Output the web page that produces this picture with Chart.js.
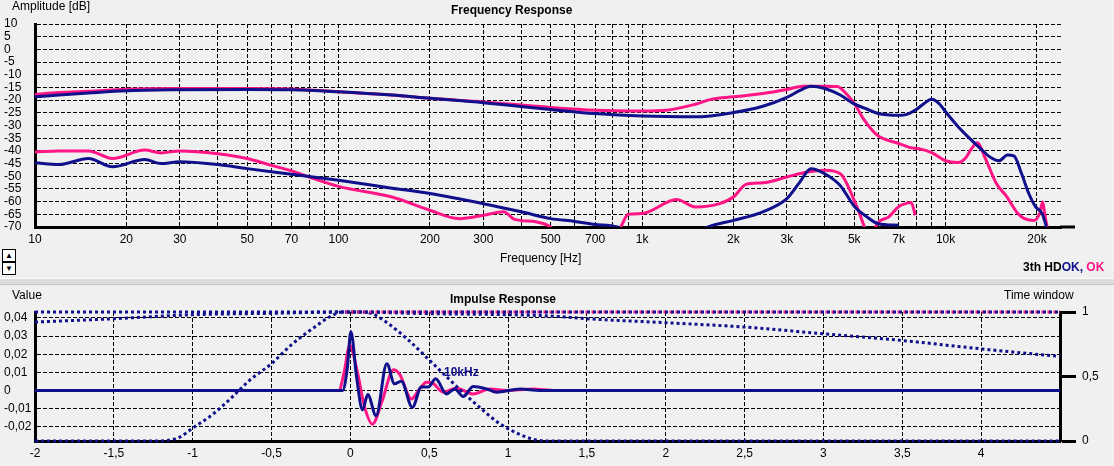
<!DOCTYPE html>
<html>
<head>
<meta charset="utf-8">
<script src="https://cdn.jsdelivr.net/npm/chart.js@4.4.1/dist/chart.umd.min.js"></script>
<style>
  body { margin: 0; background: #f0f0f0; width: 1114px; height: 466px; overflow: hidden; position: relative;
         font-family: "Liberation Sans", Arial, sans-serif; font-size: 12px; color: #000; }
  canvas { position: absolute; left: 0; }
  .t { position: absolute; white-space: nowrap; line-height: 14px; }
  .b { font-weight: bold; }
  .btn { position: absolute; left: 2px; width: 12px; height: 11px; background: #fff; border: 1px solid #000;
         font-size: 8px; line-height: 11px; text-align: center; }
  #sep { position: absolute; left: 0; top: 278px; width: 1114px; height: 5px; background: #dcdcdc;
         border-top: 1px solid #fafafa; border-bottom: 1px solid #c4c4c4; }
</style>
</head>
<body>
<canvas id="freqChart" width="1114" height="280" style="top:0"></canvas>
<canvas id="irChart" width="1114" height="181" style="top:285px"></canvas>

<div class="t" style="left:12px;top:-1px">Amplitude [dB]</div>
<div class="t b" style="left:451px;top:3px">Frequency Response</div>
<div class="t" style="left:500px;top:251px">Frequency [Hz]</div>
<div class="t b" style="left:1023px;top:260px">3th HD<span style="color:#10108c">OK,</span> <span style="color:#ff1585">OK</span></div>
<div class="btn" style="top:249px">&#9650;</div>
<div class="btn" style="top:262px">&#9660;</div>
<div id="sep"></div>
<div class="t" style="left:12px;top:288px">Value</div>
<div class="t b" style="left:450px;top:292px">Impulse Response</div>
<div class="t" style="left:1004px;top:288px">Time window</div>
<div class="t b" style="left:444px;top:365px;color:#10108c">10kHz</div>

<script>
// 频响数据 (Hz, dB)
const blueFundF = [10, 12, 15, 20, 30, 50, 70, 100, 150, 200, 300, 500, 700, 1000, 1500, 2000, 2500, 3000, 3300, 3600, 4000, 4500, 5000, 5500, 6000, 7000, 7500, 8000, 8500, 9000, 9500, 10000, 11000, 12000, 13000, 14000, 15000, 16000, 16800, 17800, 18800, 19800, 20800, 21500];
const blueFundDb = [-18.7, -18, -17.2, -16.3, -15.9, -15.8, -15.9, -16.7, -18, -19.3, -21, -23.7, -25.3, -26.3, -26.6, -24.9, -22.4, -18.9, -16.3, -14.5, -15.4, -18, -21.5, -23.5, -25.3, -26, -25.5, -23.7, -21.3, -19.7, -21.3, -24.6, -30.5, -35.1, -39, -42.4, -43.9, -41.6, -42, -49, -56.8, -62.1, -64.7, -70];

const pinkFundF = [10, 12, 15, 20, 30, 50, 70, 100, 150, 200, 300, 500, 700, 1000, 1200, 1500, 1700, 2000, 2500, 3000, 3400, 4000, 4400, 4700, 5000, 5400, 5950, 7000, 7700, 8100, 9000, 10000, 11000, 11600, 12200, 12700, 13600, 14700, 15900, 17300, 18200, 19600, 20400, 20900, 21200, 21600];
const pinkFundDb = [-17.8, -17, -16.5, -15.7, -15.4, -15.4, -15.6, -16.7, -18, -19.3, -20.7, -22.9, -24, -24.3, -24, -21.6, -19.6, -18.7, -17.4, -15.8, -14.5, -14.5, -14.6, -17.4, -21.3, -27.9, -33.8, -37.1, -38.8, -39.1, -40.7, -43.9, -44.6, -43, -39, -36.8, -43.7, -52.9, -58, -64.7, -66.7, -67.4, -64.7, -60.1, -64.7, -70];

const blueHdF = [10, 12, 15, 18, 23, 26, 30, 40, 50, 70, 100, 150, 200, 300, 400, 500, 600, 700, 830, 950, 1400, 1650, 2000, 2500, 3000, 3300, 3600, 4000, 4500, 5000, 5500, 6000, 7000];
const blueHdDb = [-44.7, -45.4, -43, -46.3, -43.4, -45, -44.3, -45.4, -47, -49.2, -51.6, -54.7, -56.8, -60.8, -64, -66.7, -67.8, -69, -70, -75, -75, -70, -67.4, -64, -58.8, -52.5, -47, -49, -53.7, -61.8, -66, -68.7, -69.3];

const pinkHdF = [10, 12, 15, 18, 23, 26, 30, 40, 50, 60, 70, 80, 100, 150, 200, 250, 300, 350, 380, 450, 500, 560, 780, 850, 900, 1000, 1300, 1500, 1800, 2000, 2200, 2500, 3000, 3500, 4000, 4500, 5000, 5400, 5600, 5700, 5870, 6500, 7000, 7500, 7700, 7950];
const pinkHdDb = [-40.4, -40, -40, -43, -39.7, -40.8, -40, -41.1, -43, -45.7, -47.9, -50.3, -54, -58.2, -63.4, -66.7, -65.4, -64, -67, -68, -70, -76, -76, -70, -65, -64.7, -59.2, -62.1, -60.8, -58.2, -53.2, -52.6, -50.3, -48.3, -47.6, -49, -59.5, -70, -76, -76, -70, -66, -62, -60.5, -60.3, -65.4];

const freqGrid = [10, 20, 30, 40, 50, 60, 70, 80, 90, 100, 200, 300, 400, 500, 600, 700, 800, 900,
                  1000, 2000, 3000, 4000, 5000, 6000, 7000, 8000, 9000, 10000, 20000];
const freqLabels = { 10: '10', 20: '20', 30: '30', 50: '50', 70: '70', 100: '100', 200: '200', 300: '300',
                     500: '500', 700: '700', 1000: '1k', 2000: '2k', 3000: '3k', 5000: '5k', 7000: '7k',
                     10000: '10k', 20000: '20k' };
const dbTicks = [-70, -65, -60, -55, -50, -45, -40, -35, -30, -25, -20, -15, -10, -5, 0, 5, 10];

// 脉冲响应 (ms)
const irBlueT = [-2, -0.05, -0.02, 0.003, 0.04, 0.077, 0.11, 0.163, 0.231, 0.28, 0.323, 0.393, 0.45, 0.493, 0.541, 0.609, 0.662, 0.715, 0.779, 0.864, 0.927, 1.076, 1.2, 4.5];
const irBlueV = [0, 0, 0.012, 0.0324, 0.007, -0.0107, -0.0022, -0.0139, 0.0148, 0.0037, 0.0052, -0.0093, 0.0019, 0.0019, 0.0065, -0.0019, 0.0009, -0.0033, 0.0022, 0.0009, -0.0009, 0.0009, 0, 0];
const irPinkT = [-2, -0.074, -0.04, -0.004, 0.04, 0.09, 0.14, 0.2, 0.274, 0.312, 0.387, 0.44, 0.482, 0.524, 0.588, 0.673, 0.779, 0.885, 0.99, 1.16, 1.3, 2.0];
const irPinkV = [0, 0, 0.01, 0.025, 0.012, -0.009, -0.0185, -0.006, 0.0115, 0.009, -0.0046, 0.001, 0.0046, 0.004, -0.0009, 0.0013, -0.0019, 0.0009, 0, 0.0009, 0, 0];

const winShortT = [-2, -1.25, -1.09, -1, -0.87, -0.75, -0.64, -0.5, -0.37, -0.23, -0.12, -0.05, 0.05, 0.13, 0.24, 0.37, 0.49, 0.6, 0.71, 0.83, 0.94, 1.05, 1.16, 1.25, 4.5];
const winShortV = [0, 0, 0.026, 0.1, 0.21, 0.34, 0.47, 0.6, 0.75, 0.88, 0.97, 1, 1, 0.99, 0.91, 0.78, 0.64, 0.51, 0.38, 0.25, 0.14, 0.065, 0.013, 0, 0];
const winLongT = [-2, -1.5, -1, -0.5, 0, 0.5, 1, 1.31, 1.5, 2, 2.5, 3, 3.5, 4, 4.5];
const winLongV = [0.922, 0.948, 0.979, 0.99, 1, 0.987, 0.979, 0.966, 0.948, 0.917, 0.883, 0.831, 0.779, 0.714, 0.655];
const winFlatBlueT = [-2, 4.5];
const winFlatPinkT = [-0.05, 4.5];
const winFlatV = [1, 1];

const timeTicks = [-2, -1.5, -1, -0.5, 0, 0.5, 1, 1.5, 2, 2.5, 3, 3.5, 4];
const valueTicks = [-0.02, -0.01, 0, 0.01, 0.02, 0.03, 0.04];
const windowTicks = [0, 0.5, 1];

const PINK = '#ff1585';
const BLUE = '#10108c';
const FONT = { family: '"Liberation Sans", Arial, sans-serif', size: 12 };

Chart.defaults.color = '#000';
Chart.defaults.font = FONT;

function pts(xs, ys) {
  return xs.map((x, i) => ({ x: x, y: ys[i] }));
}
function setTicks(values) {
  return function (scale) { scale.ticks = values.map(v => ({ value: v })); };
}
function comma(v) {
  return v === 0 ? '0' : String(+v.toFixed(3)).replace('.', ',');
}
function line(data, color, extra) {
  return Object.assign({
    data: data, borderColor: color, borderWidth: 3, pointRadius: 0,
    showLine: true, fill: false, cubicInterpolationMode: 'monotone'
  }, extra || {});
}

// 底部坐标轴向右延长一点
const axisExtend = {
  id: 'axisExtend',
  afterDraw(chart) {
    const a = chart.chartArea, ctx = chart.ctx;
    ctx.save();
    ctx.strokeStyle = '#000';
    ctx.lineWidth = 3;
    ctx.beginPath();
    ctx.moveTo(a.right - 1, a.bottom);
    ctx.lineTo(a.right + 14, a.bottom);
    ctx.stroke();
    ctx.restore();
  }
};

const freqChart = new Chart(document.getElementById('freqChart'), {
  type: 'scatter',
  data: {
    datasets: [
      line(pts(blueFundF, blueFundDb), BLUE),
      line(pts(blueHdF, blueHdDb), BLUE),
      line(pts(pinkFundF, pinkFundDb), PINK),
      line(pts(pinkHdF, pinkHdDb), PINK)
    ]
  },
  options: {
    responsive: false,
    animation: false,
    layout: { padding: { left: 4, top: 24, right: 53, bottom: 0 } },
    plugins: { legend: { display: false }, tooltip: { enabled: false } },
    scales: {
      x: {
        type: 'logarithmic',
        min: 10,
        max: 24000,
        afterBuildTicks: setTicks(freqGrid),
        afterFit: s => { s.height = 53; },
        ticks: {
          autoSkip: false, maxRotation: 0, padding: 5,
          callback: v => freqLabels[v] || ''
        },
        grid: { color: '#000', lineWidth: 1, drawTicks: false },
        border: { display: true, color: '#000', width: 3, dash: [4, 2] }
      },
      y: {
        min: -70,
        max: 10,
        afterBuildTicks: setTicks(dbTicks),
        afterFit: s => { s.width = 31; },
        ticks: { autoSkip: false, crossAlign: 'far', padding: 0, callback: v => String(v) },
        grid: { color: '#000', lineWidth: 1, drawTicks: false },
        border: { display: true, color: '#000', width: 3, dash: [4, 2] }
      }
    }
  },
  plugins: [axisExtend]
});

const irChart = new Chart(document.getElementById('irChart'), {
  type: 'scatter',
  data: {
    datasets: [
      line(pts(winFlatBlueT, winFlatV), BLUE, { yAxisID: 'y2', borderDash: [3, 3], clip: 4, cubicInterpolationMode: 'default' }),
      line(pts(winFlatPinkT, winFlatV), PINK, { yAxisID: 'y2', borderDash: [3, 3], borderDashOffset: 3, clip: 4, cubicInterpolationMode: 'default' }),
      line(pts(winShortT, winShortV), BLUE, { yAxisID: 'y2', borderDash: [3, 3], clip: 4 }),
      line(pts(winLongT, winLongV), BLUE, { yAxisID: 'y2', borderDash: [3, 3], clip: 4 }),
      line(pts(irBlueT, irBlueV), BLUE, { yAxisID: 'y' }),
      line(pts(irPinkT, irPinkV), PINK, { yAxisID: 'y' })
    ]
  },
  options: {
    responsive: false,
    animation: false,
    layout: { padding: { left: 4, top: 27, right: 0, bottom: 0 } },
    plugins: { legend: { display: false }, tooltip: { enabled: false } },
    scales: {
      x: {
        type: 'linear',
        min: -2,
        max: 4.5,
        afterBuildTicks: setTicks(timeTicks),
        afterFit: s => { s.height = 25; },
        ticks: { autoSkip: false, maxRotation: 0, padding: 5, callback: v => comma(v) },
        grid: { color: '#000', lineWidth: 1, drawTicks: false },
        border: { display: true, color: '#000', width: 3, dash: [4, 2] }
      },
      y: {
        position: 'left',
        min: -0.0278,
        max: 0.0433,
        afterBuildTicks: setTicks(valueTicks),
        afterFit: s => { s.width = 31; },
        ticks: { autoSkip: false, crossAlign: 'far', padding: 0, callback: v => comma(v) },
        grid: { color: '#000', lineWidth: 1, drawTicks: false },
        border: { display: true, color: '#000', width: 3, dash: [4, 2] }
      },
      y2: {
        position: 'right',
        min: 0,
        max: 1,
        afterBuildTicks: setTicks(windowTicks),
        afterFit: s => { s.width = 54; },
        ticks: { autoSkip: false, padding: 6, callback: v => comma(v) },
        grid: { drawOnChartArea: false, drawTicks: true, tickLength: 16, tickWidth: 3, tickColor: '#000' },
        border: { display: true, color: '#000', width: 3 }
      }
    }
  }
});
</script>
</body>
</html>
